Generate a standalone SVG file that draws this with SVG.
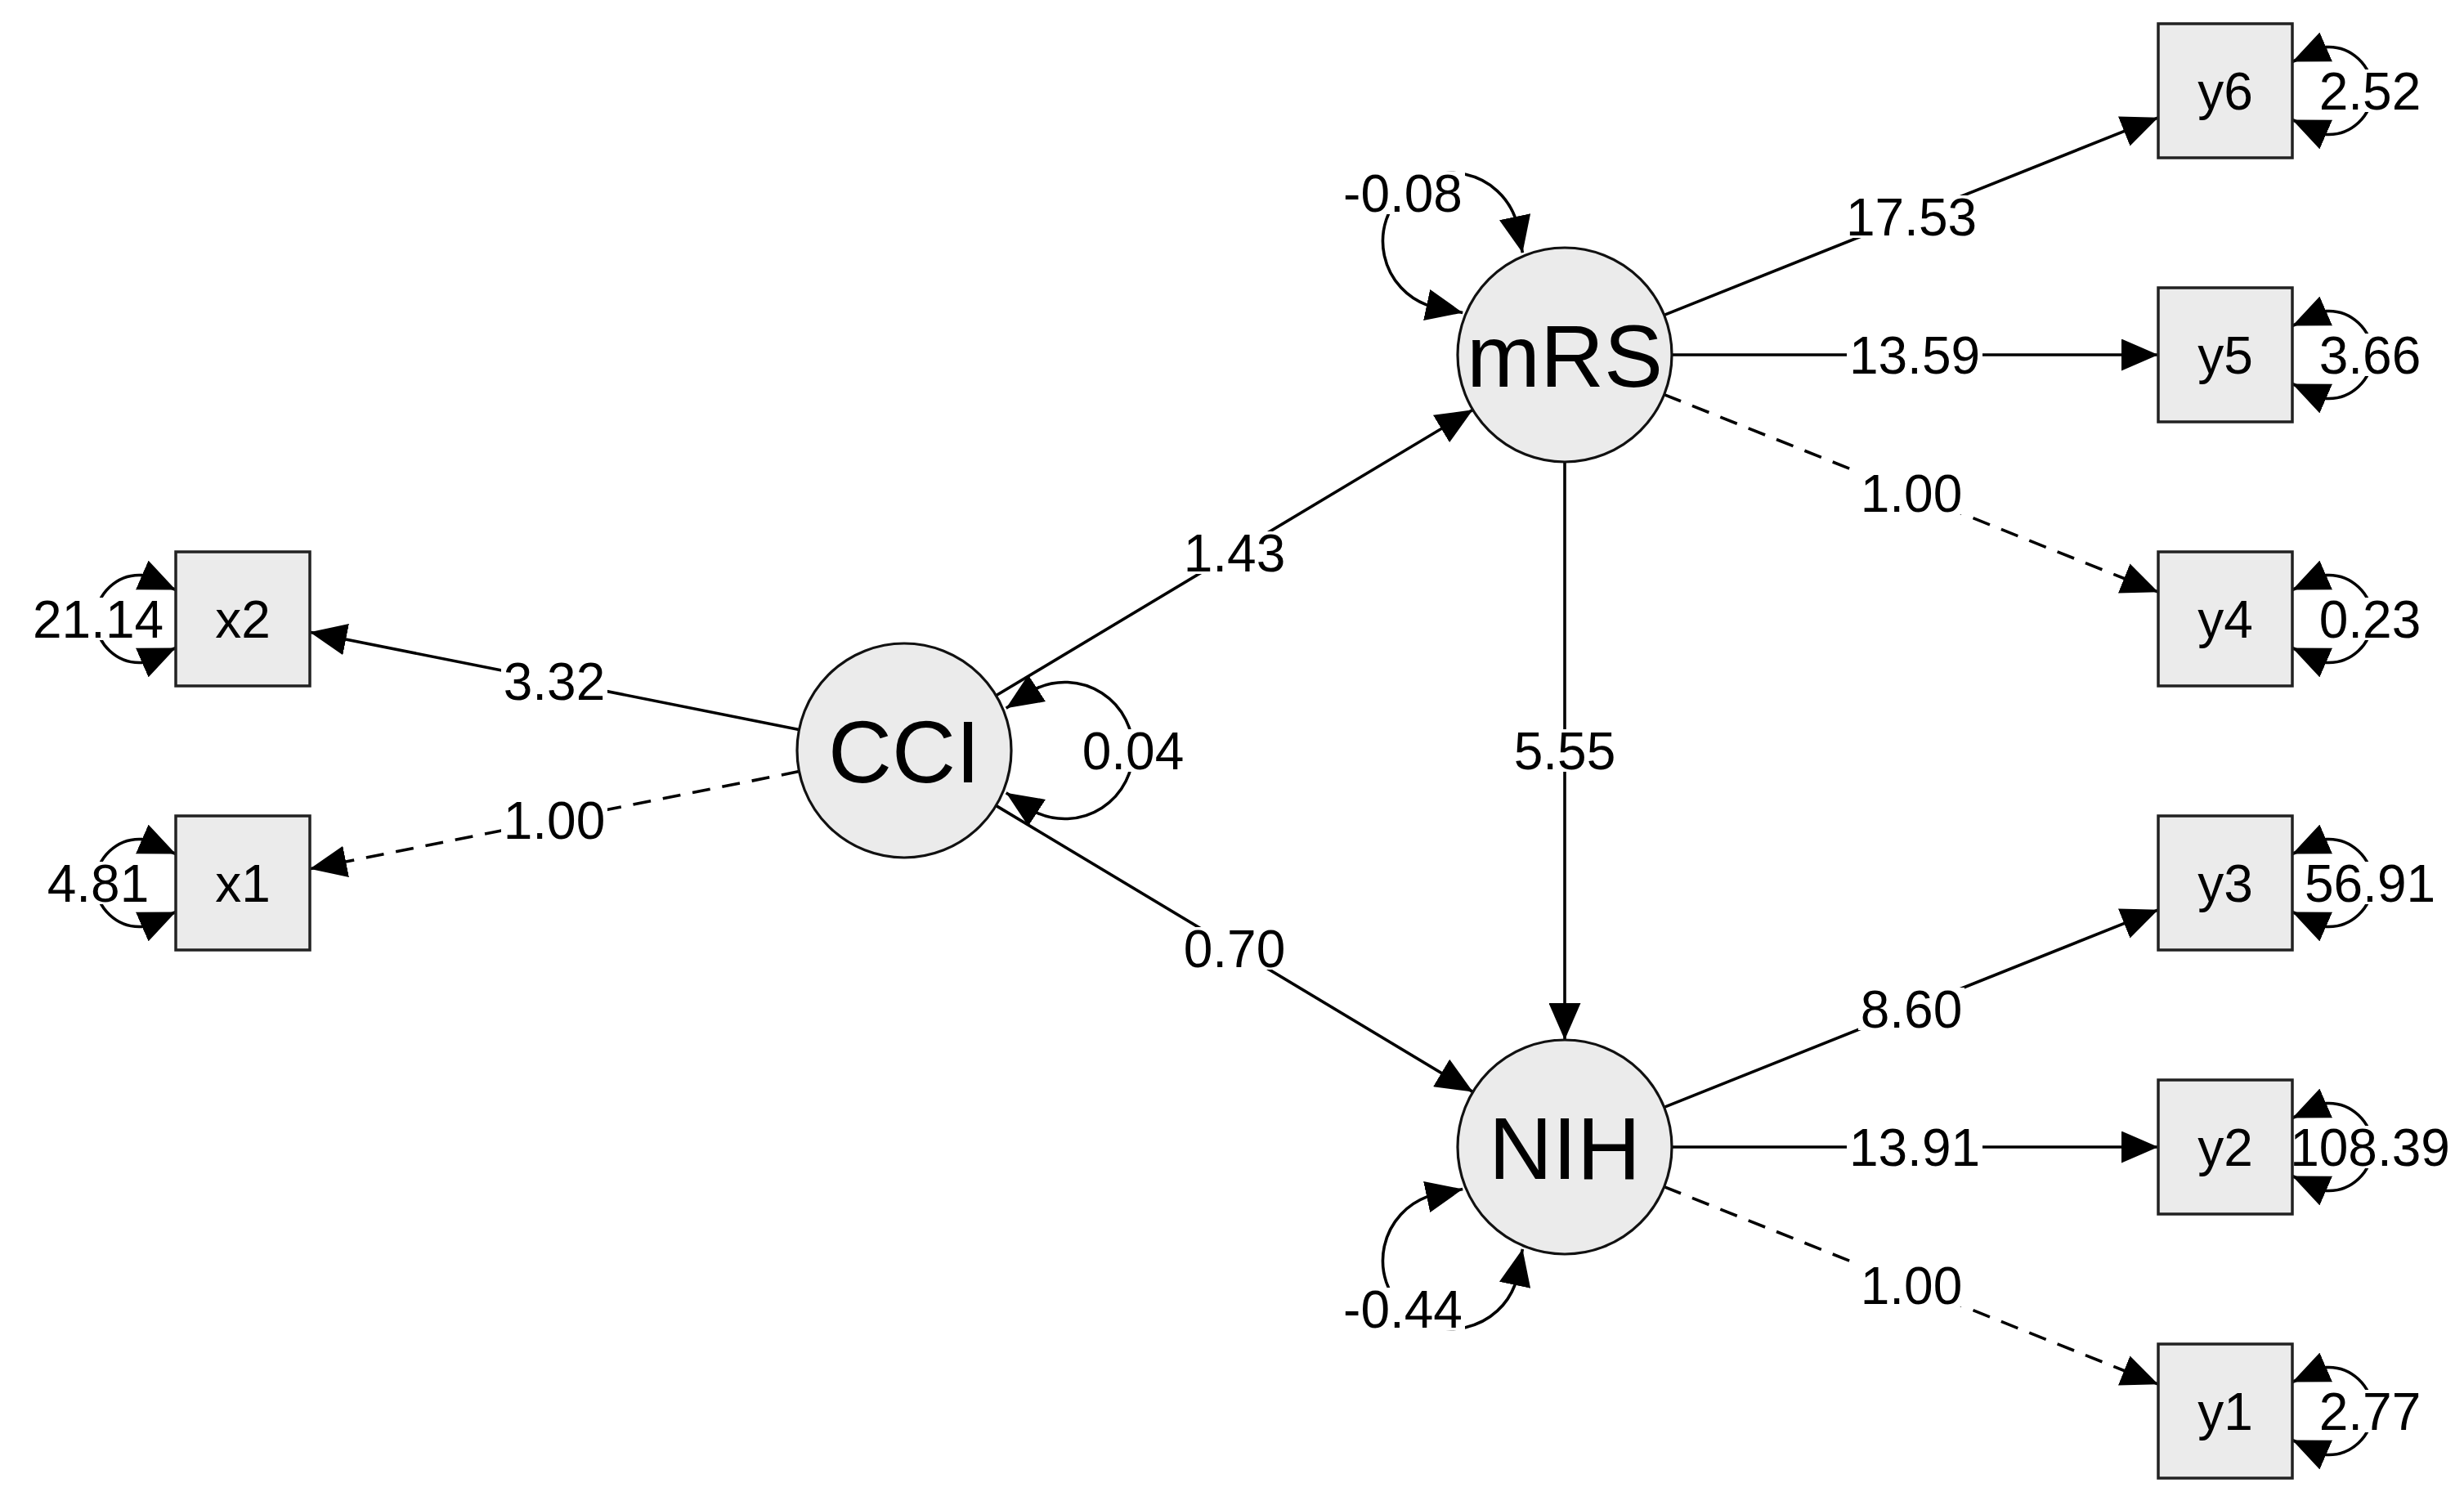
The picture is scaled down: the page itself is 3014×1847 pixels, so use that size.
<svg xmlns="http://www.w3.org/2000/svg" width="3014" height="1847" viewBox="0 0 3014 1847">
<defs>
<style>
.e{fill:none;stroke:#000;stroke-width:3.6}
.d{stroke-dasharray:22 15}
.a{marker-end:url(#ah)}
.l{marker-start:url(#ah);marker-end:url(#ah)}
.bg{fill:#fff}
.t{font-family:"Liberation Sans",Arial,sans-serif;font-size:64px;fill:#000;text-anchor:middle}
.nt{font-family:"Liberation Sans",Arial,sans-serif;font-size:108px;fill:#000;text-anchor:middle}
.box{fill:#ebebeb;stroke:#222;stroke-width:3.5}
.circ{fill:#ebebeb;stroke:#111;stroke-width:3.2}
</style>
<marker id="ah" viewBox="0 0 45 39" refX="45" refY="19.5" markerWidth="45" markerHeight="39" markerUnits="userSpaceOnUse" orient="auto-start-reverse">
<path d="M0,0 L45,19.5 L0,39 z" fill="#000"/>
</marker>
</defs>
<rect width="3014" height="1847" fill="#fff"/>
<g id="connectors">
<path class="e a" d="M977.5,892.4 L379,773.3"/>
<path class="e a d" d="M977.5,943.6 L379,1062.7"/>
<path class="e a" d="M1218.4,850.7 L1801.6,501.3"/>
<path class="e a" d="M1218.3,985.4 L1801.7,1335.6"/>
<path class="e a" d="M1914,565 L1914,1272"/>
<path class="e a" d="M2035.6,385.4 L2640,143.8"/>
<path class="e a" d="M2045,434 L2640,434"/>
<path class="e a d" d="M2035.6,482.6 L2640,724.2"/>
<path class="e a" d="M2035.6,1354.4 L2640,1112.8"/>
<path class="e a" d="M2045,1403 L2640,1403"/>
<path class="e a d" d="M2035.6,1451.6 L2640,1693.2"/>
<path class="e l" d="M1230.7,866.3 L1268.2,841.9 A83.5,83.5 0 1,1 1268.2,994.1 L1230.7,969.7"/>
<path class="e l" d="M1789.2,382.4 L1745.5,373.1 A83.5,83.5 0 1,1 1853.1,265.5 L1862.4,309.2"/>
<path class="e l" d="M1862.4,1527.8 L1853.1,1571.5 A83.5,83.5 0 1,1 1745.5,1463.9 L1789.2,1454.6"/>
<path class="e l" d="M215,721.5 L174,703.6 A53.5,53.5 0 1,0 174,810.4 L215,792.5"/>
<path class="e l" d="M215,1044.5 L174,1026.6 A53.5,53.5 0 1,0 174,1133.4 L215,1115.5"/>
<path class="e l" d="M2804,75.5 L2845,57.6 A53.5,53.5 0 1,1 2845,164.4 L2804,146.5"/>
<path class="e l" d="M2804,398.5 L2845,380.6 A53.5,53.5 0 1,1 2845,487.4 L2804,469.5"/>
<path class="e l" d="M2804,721.5 L2845,703.6 A53.5,53.5 0 1,1 2845,810.4 L2804,792.5"/>
<path class="e l" d="M2804,1044.5 L2845,1026.6 A53.5,53.5 0 1,1 2845,1133.4 L2804,1115.5"/>
<path class="e l" d="M2804,1367.5 L2845,1349.6 A53.5,53.5 0 1,1 2845,1456.4 L2804,1438.5"/>
<path class="e l" d="M2804,1690.5 L2845,1672.6 A53.5,53.5 0 1,1 2845,1779.4 L2804,1761.5"/>
<g id="edge-labels">
<rect class="bg" x="613" y="807" width="130" height="52"/><text class="t" x="678" y="856">3.32</text>
<rect class="bg" x="613" y="977" width="130" height="52"/><text class="t" x="678" y="1026">1.00</text>
<rect class="bg" x="1445" y="650" width="130" height="52"/><text class="t" x="1510" y="699">1.43</text>
<rect class="bg" x="1445" y="1134" width="130" height="52"/><text class="t" x="1510" y="1183">0.70</text>
<rect class="bg" x="1849" y="892" width="130" height="52"/><text class="t" x="1914" y="941">5.55</text>
<rect class="bg" x="2255" y="239" width="166" height="52"/><text class="t" x="2338" y="288">17.53</text>
<rect class="bg" x="2259" y="408" width="166" height="52"/><text class="t" x="2342" y="457">13.59</text>
<rect class="bg" x="2273" y="577" width="130" height="52"/><text class="t" x="2338" y="626">1.00</text>
<rect class="bg" x="2273" y="1208" width="130" height="52"/><text class="t" x="2338" y="1257">8.60</text>
<rect class="bg" x="2259" y="1377" width="166" height="52"/><text class="t" x="2342" y="1426">13.91</text>
<rect class="bg" x="2273" y="1546" width="130" height="52"/><text class="t" x="2338" y="1595">1.00</text>
<rect class="bg" x="1321" y="892" width="130" height="52"/><text class="t" x="1386" y="941">0.04</text>
<rect class="bg" x="1640" y="210" width="152" height="52"/><text class="t" x="1716" y="259">-0.08</text>
<rect class="bg" x="1640" y="1575" width="152" height="52"/><text class="t" x="1716" y="1624">-0.44</text>
<rect class="bg" x="37" y="731" width="166" height="52"/><text class="t" x="120" y="780">21.14</text>
<rect class="bg" x="55" y="1054" width="130" height="52"/><text class="t" x="120" y="1103">4.81</text>
<rect class="bg" x="2834" y="85" width="130" height="52"/><text class="t" x="2899" y="134">2.52</text>
<rect class="bg" x="2834" y="408" width="130" height="52"/><text class="t" x="2899" y="457">3.66</text>
<rect class="bg" x="2834" y="731" width="130" height="52"/><text class="t" x="2899" y="780">0.23</text>
<rect class="bg" x="2816" y="1054" width="166" height="52"/><text class="t" x="2899" y="1103">56.91</text>
<rect class="bg" x="2799" y="1377" width="200" height="52"/><text class="t" x="2899" y="1426">108.39</text>
<rect class="bg" x="2834" y="1700" width="130" height="52"/><text class="t" x="2899" y="1749">2.77</text>
</g>
</g>
<g id="CCI"><circle class="circ" cx="1106" cy="918" r="131"/><text class="nt" x="1106" y="957">CCI</text></g>
<g id="mRS"><circle class="circ" cx="1914" cy="434" r="131"/><text class="nt" x="1914" y="473">mRS</text></g>
<g id="NIH"><circle class="circ" cx="1914" cy="1403" r="131"/><text class="nt" x="1914" y="1442">NIH</text></g>
<g id="x2"><rect class="box" x="215" y="675" width="164" height="164"/><text class="t" x="297" y="780">x2</text></g>
<g id="x1"><rect class="box" x="215" y="998" width="164" height="164"/><text class="t" x="297" y="1103">x1</text></g>
<g id="y6"><rect class="box" x="2640" y="29" width="164" height="164"/><text class="t" x="2722" y="134">y6</text></g>
<g id="y5"><rect class="box" x="2640" y="352" width="164" height="164"/><text class="t" x="2722" y="457">y5</text></g>
<g id="y4"><rect class="box" x="2640" y="675" width="164" height="164"/><text class="t" x="2722" y="780">y4</text></g>
<g id="y3"><rect class="box" x="2640" y="998" width="164" height="164"/><text class="t" x="2722" y="1103">y3</text></g>
<g id="y2"><rect class="box" x="2640" y="1321" width="164" height="164"/><text class="t" x="2722" y="1426">y2</text></g>
<g id="y1"><rect class="box" x="2640" y="1644" width="164" height="164"/><text class="t" x="2722" y="1749">y1</text></g>
</svg>
